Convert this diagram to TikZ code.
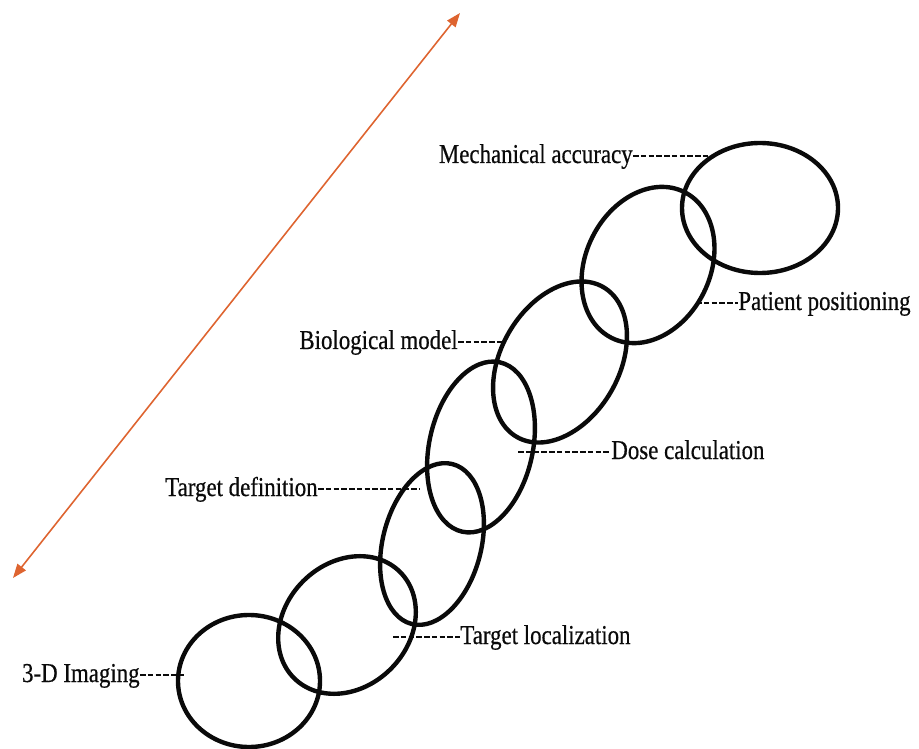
\documentclass[tikz,border=0pt]{standalone}
\usepackage{fontspec}
\setmainfont{Liberation Serif}[FakeStretch=0.84, FakeBold=0.5]
\usepackage{tikz}
\usetikzlibrary{shapes.geometric, arrows.meta}
\definecolor{inkdark}{RGB}{10,10,10}
\definecolor{spanorange}{RGB}{222,100,48}
\tikzset{
  ring/.style={ellipse, draw=inkdark, line width=2.5pt, inner sep=0pt},
  tag/.style={inner sep=0pt, font=\fontsize{15.5}{18}\selectfont, text=inkdark},
  leader/.style={draw=inkdark, line width=1.2pt, dash pattern=on 1.1mm off 0.45mm},
  span/.style={{Triangle[length=2.8mm,width=2.1mm]}-{Triangle[length=2.8mm,width=2.1mm]},
    draw=spanorange, line width=0.9pt}
}

\begin{document}
\begin{tikzpicture}[x=0.2mm, y=-0.2mm]
  \useasboundingbox (0,0) rectangle (919,749);

  % chain of rings, bottom left to top right
  \node[ring, minimum width=28.4mm, minimum height=26.4mm] (img) at (249,681) {};
  \node[ring, minimum width=30mm, minimum height=24.8mm, rotate=45] (tloc) at (347,625) {};
  \node[ring, minimum width=33mm, minimum height=19.7mm, rotate=75.7] (tdef) at (432,544) {};
  \node[ring, minimum width=34.7mm, minimum height=20.7mm, rotate=77.5] (dose) at (481,447) {};
  \node[ring, minimum width=34.6mm, minimum height=23.6mm, rotate=60] (bio) at (560,362) {};
  \node[ring, minimum width=32.6mm, minimum height=24.9mm, rotate=63.7] (pat) at (648,265) {};
  \node[ring, minimum width=31.2mm, minimum height=26mm] (mech) at (760,208) {};

  % labels
  \node[tag, anchor=base east] (lblImg) at (140,682) {3-D Imaging};
  \node[tag, anchor=base west] (lblTloc) at (460,644) {Target localization};
  \node[tag, anchor=base east] (lblTdef) at (318,496) {Target definition};
  \node[tag, anchor=base west] (lblDose) at (611,459) {Dose calculation};
  \node[tag, anchor=base east] (lblBio) at (458,349) {Biological model};
  \node[tag, anchor=base west] (lblPat) at (738,310) {Patient positioning};
  \node[tag, anchor=base east] (lblMech) at (633,163) {Mechanical accuracy};

  % leader ends
  \coordinate (endImg) at (186,675);
  \coordinate (endTloc) at (393,637);
  \coordinate (endTdef) at (420,489);
  \coordinate (endDose) at (518,452);
  \coordinate (endBio) at (504,342);
  \coordinate (endPat) at (696,303);
  \coordinate (endMech) at (712,156);

  \draw[leader] (lblImg.east |- endImg) -- (endImg);
  \draw[leader] (endTloc) -- (lblTloc.west |- endTloc);
  \draw[leader] (lblTdef.east |- endTdef) -- (endTdef);
  \draw[leader] (endDose) -- (lblDose.west |- endDose);
  \draw[leader] (lblBio.east |- endBio) -- (endBio);
  \draw[leader] (endPat) -- (lblPat.west |- endPat);
  \draw[leader] (lblMech.east |- endMech) -- (endMech);

  % double arrow
  \coordinate (spanLo) at (13,578);
  \coordinate (spanHi) at (460,13);
  \draw[span] (spanLo) -- (spanHi);
\end{tikzpicture}
\end{document}
